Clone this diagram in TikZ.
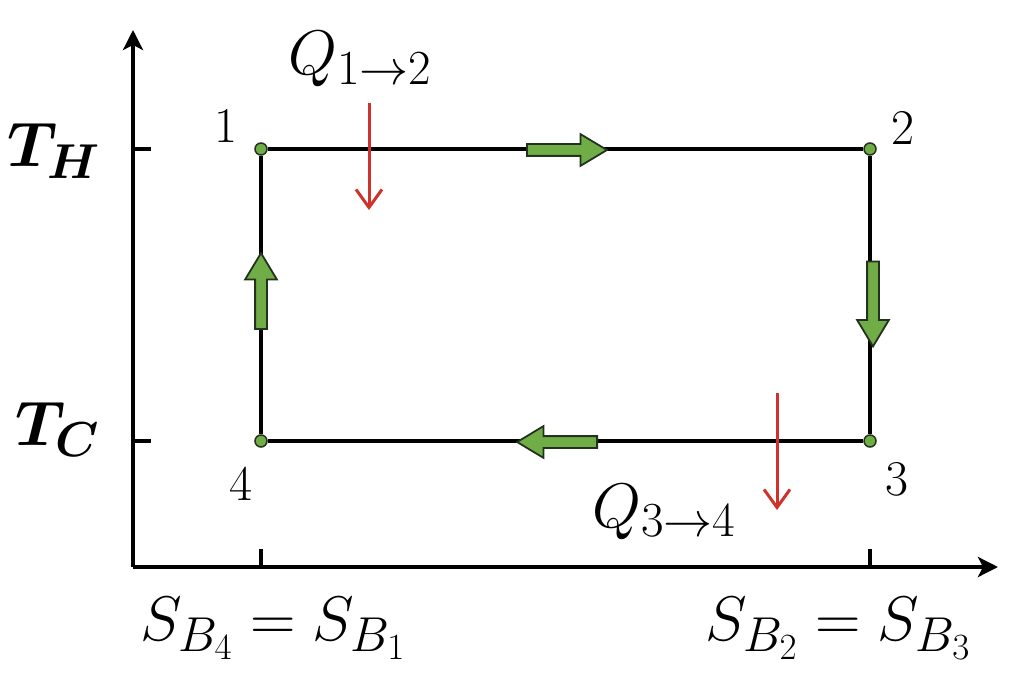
\documentclass[tikz,border=0pt]{standalone}
\usepackage{fix-cm}
\usepackage{bm}
\DeclareMathSizes{63}{63}{49}{37}
\usetikzlibrary{arrows.meta,shapes.arrows}
\definecolor{garrow}{RGB}{112,173,71}
\definecolor{gline}{RGB}{35,50,30}
\definecolor{qred}{RGB}{205,50,45}
\tikzset{
 axisline/.style={line width=4pt, -{Stealth[length=20pt,width=20pt,inset=5pt]}},
 cycleline/.style={line width=3.5pt},
 tickline/.style={line width=3.5pt},
 dot/.style={circle, draw=gline, fill=garrow, line width=1.5pt, minimum size=12pt, inner sep=0pt},
 flow/.style={single arrow, draw=gline, fill=garrow, line width=1.8pt, inner sep=0pt, inner ysep=5pt, single arrow head extend=10pt, single arrow tip angle=62, minimum height=80pt},
 heat/.style={draw=qred, line width=3pt, -{Straight Barb[length=18pt,width=26pt]}},
 big/.style={font=\fontsize{63}{75}\selectfont, inner sep=0pt},
 num/.style={font=\fontsize{50}{60}\selectfont, inner sep=0pt},
}
\begin{document}
\begin{tikzpicture}[x=1pt,y=-1pt]
\useasboundingbox[fill=white] (0,0) rectangle (1024,692);
% axes
\coordinate (O) at (133,567);
\coordinate (ytop) at (133,30);
\coordinate (xend) at (998,567);
\draw[axisline] (O) -- (ytop);
\draw[axisline] (O) -- (xend);
% ticks
\coordinate (tH) at (133,149); \coordinate (tHe) at (151,149);
\coordinate (tC) at (133,441); \coordinate (tCe) at (151,441);
\coordinate (s1) at (261,567); \coordinate (s1e) at (261,549);
\coordinate (s2) at (870,567); \coordinate (s2e) at (870,549);
\draw[tickline] (tH) -- (tHe);
\draw[tickline] (tC) -- (tCe);
\draw[tickline] (s1) -- (s1e);
\draw[tickline] (s2) -- (s2e);
% corners
\node[dot] (p1) at (261,149) {};
\node[dot] (p2) at (870,149) {};
\node[dot] (p3) at (870,441) {};
\node[dot] (p4) at (261,441) {};
\draw[cycleline] (p1) -- (p2);
\draw[cycleline] (p2) -- (p3);
\draw[cycleline] (p3) -- (p4);
\draw[cycleline] (p4) -- (p1);
% flow arrows
\node[flow] (f12) at (562,150) {};
\node[flow, minimum height=85pt, rotate=-90] (f23) at (873,299) {};
\node[flow, rotate=180] (f34) at (562,442) {};
\node[flow, minimum height=76pt, rotate=90] (f41) at (261,296) {};
% heat arrows
\coordinate (h1s) at (369,103); \coordinate (h1e) at (369,210);
\coordinate (h2s) at (777,393); \coordinate (h2e) at (777,510);
\draw[heat] (h1s) -- (h1e);
\draw[heat] (h2s) -- (h2e);
% labels
\node[big, anchor=base west] (q12) at (288,75) {$Q_{1\rightarrow2}$};
\node[big, anchor=base west] (q34) at (592,527) {$Q_{3\rightarrow4}$};
\node[big, anchor=base east] (th) at (100,167) {$\bm{T}_{\bm{H}}$};
\node[big, anchor=base east] (tc) at (100,445) {$\bm{T}_{\bm{C}}$};
\node[big, anchor=base west] (sl) at (140,640) {$S_{B_4} = S_{B_1}$};
\node[big, anchor=base west] (sr) at (705,640) {$S_{B_2} = S_{B_3}$};
\node[num, anchor=base] (l1) at (226,143) {1};
\node[num, anchor=base] (l2) at (903,145) {2};
\node[num, anchor=base] (l3) at (897,495) {3};
\node[num, anchor=base] (l4) at (241,500) {4};
\end{tikzpicture}
\end{document}
